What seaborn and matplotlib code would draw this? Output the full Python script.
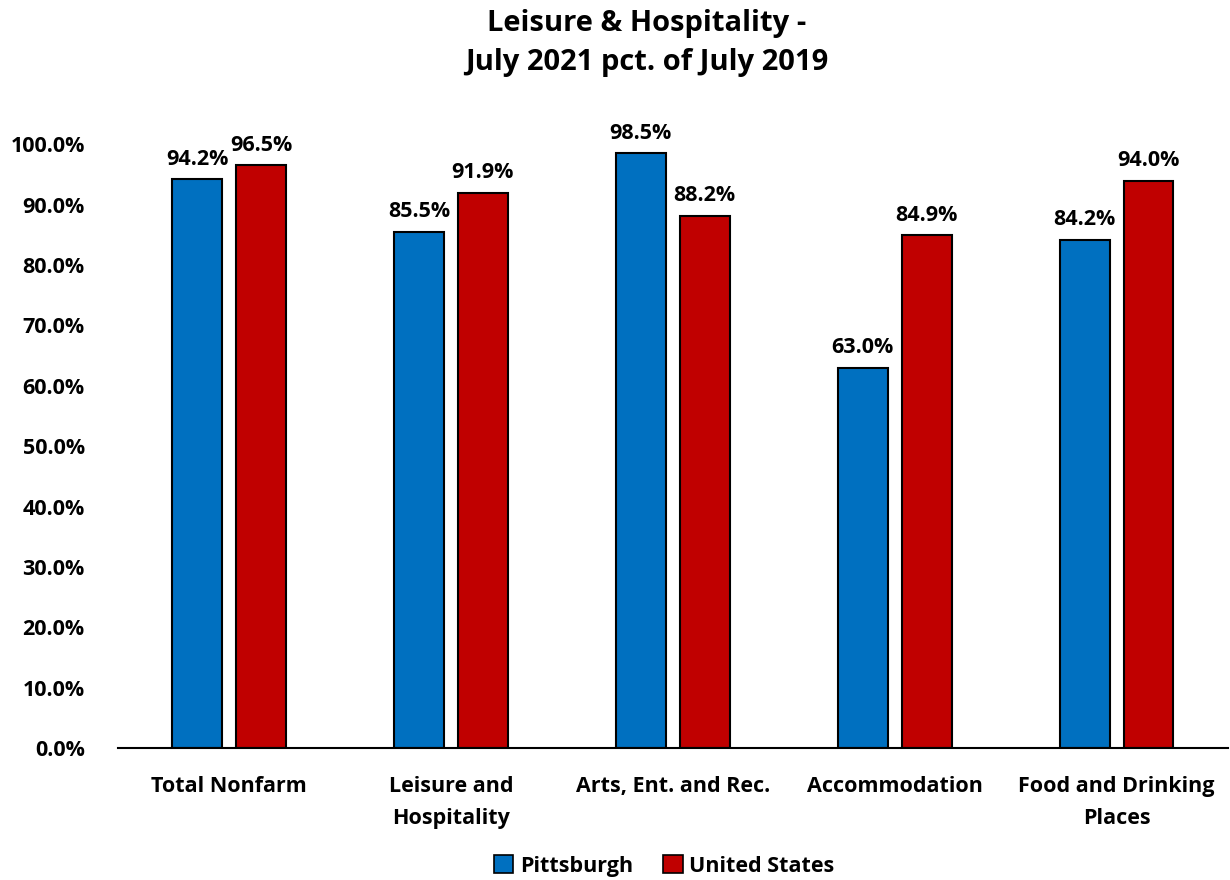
import matplotlib
matplotlib.use("Agg")
import matplotlib.pyplot as plt
import seaborn as sns
import pandas as pd
from matplotlib.patches import Patch

categories = ["Total Nonfarm", "Leisure and\nHospitality", "Arts, Ent. and Rec.",
              "Accommodation", "Food and Drinking\nPlaces"]
pittsburgh = [94.2, 85.5, 98.5, 63.0, 84.2]
united_states = [96.5, 91.9, 88.2, 84.9, 94.0]
series = ["Pittsburgh", "United States"]
colors = ["#0070C0", "#C00000"]
yticks = [0, 10, 20, 30, 40, 50, 60, 70, 80, 90, 100]

df = pd.DataFrame({
    "category": categories * 2,
    "value": pittsburgh + united_states,
    "series": [series[0]] * len(categories) + [series[1]] * len(categories),
})

sns.set_style("white")
plt.rcParams["font.family"] = ["Open Sans", "DejaVu Sans"]
plt.rcParams["font.weight"] = "bold"
for key in ["text.color", "axes.labelcolor", "xtick.color", "ytick.color"]:
    plt.rcParams[key] = "black"

fig = plt.figure(figsize=(12.3, 8.8), dpi=100)
ax = fig.add_axes([0.096, 0.15, 0.902, 0.686])

sns.barplot(data=df, x="category", y="value", hue="series", palette=colors,
            saturation=1, width=0.576, gap=0.22, edgecolor="black",
            linewidth=1.5, ax=ax, legend=False)

for container in ax.containers:
    for bar in container:
        h = bar.get_height()
        ax.annotate(f"{h:.1f}%", (bar.get_x() + bar.get_width() / 2, h),
                    xytext=(0, 7), textcoords="offset points",
                    ha="center", va="bottom", fontsize=15.5, fontweight="bold",
                    annotation_clip=False)

ax.set_ylim(0, 100)
ax.set_yticks(yticks)
ax.set_yticklabels([f"{t:.1f}%" for t in yticks], fontsize=15.5, fontweight="bold")
ax.tick_params(axis="x", labelsize=15.5, length=0, pad=20)
ax.tick_params(axis="y", length=0, pad=24)
for lbl in ax.get_xticklabels():
    lbl.set_fontweight("bold")
    lbl.set_linespacing(1.7)
ax.set_xlabel("")
ax.set_ylabel("")
for s in ["top", "right", "left"]:
    ax.spines[s].set_visible(False)
ax.spines["bottom"].set_linewidth(1.5)
ax.spines["bottom"].set_color("black")
ax.set_xlim(-0.5, 4.5)

fig.suptitle("Leisure & Hospitality -\nJuly 2021 pct. of July 2019",
             x=0.526, y=0.99, fontsize=21, fontweight="bold", linespacing=1.45)

handles = [Patch(facecolor=c, edgecolor="black", linewidth=1.2, label=s)
           for c, s in zip(colors, series)]
fig.legend(handles=handles, loc="center", bbox_to_anchor=(0.54, 0.016),
           ncol=2, frameon=False, prop={"size": 15.5, "weight": "bold"},
           handlelength=0.9, handleheight=0.9, handletextpad=0.3,
           columnspacing=1.4)

fig.savefig("out.png", dpi=100)
